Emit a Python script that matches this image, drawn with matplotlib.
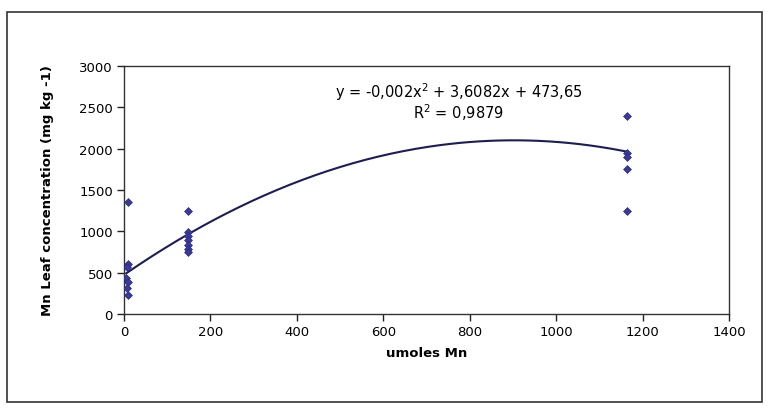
import numpy as np
import matplotlib
matplotlib.use('Agg')
import matplotlib.pyplot as plt
from matplotlib.patches import Rectangle

# data
x_low = [10, 10, 8, 5, 10, 8, 10]
y_low = [1360, 610, 570, 430, 390, 310, 230]
x_mid = [148, 148, 148, 148, 148, 148, 148]
y_mid = [1250, 990, 940, 890, 840, 790, 750]
x_high = [1165, 1165, 1165, 1165, 1165]
y_high = [2390, 1950, 1900, 1760, 1245]

# trendline coefficients as printed on the chart
coef = [-0.002, 3.6082, 473.65]
eq_text = 'y = -0,002x$^{2}$ + 3,6082x + 473,65'
r2_text = 'R$^{2}$ = 0,9879'

xs = np.array(x_low + x_mid + x_high)
ys = np.array(y_low + y_mid + y_high)

plt.rcParams['font.family'] = ['DejaVu Sans']
plt.rcParams['mathtext.default'] = 'regular'

fig = plt.figure(figsize=(7.68, 4.10), dpi=100)
fig.patch.set_facecolor('white')
# outer chart border
fig.patches.append(Rectangle((7 / 768, 1 - 403 / 410), 755 / 768, 390 / 410,
                             transform=fig.transFigure, fill=False,
                             edgecolor='#333333', linewidth=1.2))

ax = fig.add_axes([124 / 768, 1 - 315 / 410, 605 / 768, 248 / 410])
ax.scatter(xs, ys, marker='D', s=16, color='#3a3a9a', edgecolor='#2a2a80',
           linewidth=0.5, zorder=3)

xt = np.linspace(xs.min(), xs.max(), 200)
ax.plot(xt, np.polyval(coef, xt), color='#1c1c5c', linewidth=1.5, zorder=2)

ax.set_xlim(0, 1400)
ax.set_ylim(0, 3000)
ax.set_xticks(np.arange(0, 1401, 200))
ax.set_yticks(np.arange(0, 3001, 500))
ax.tick_params(direction='out', length=5, width=1, labelsize=9.5, color='#222222',
               pad=3)
for s in ax.spines.values():
    s.set_color('#333333')
    s.set_linewidth(1.0)

ax.set_xlabel('umoles Mn', fontsize=9.5, fontweight='bold', labelpad=6)
ax.set_ylabel('Mn Leaf concentration (mg kg -1)', fontsize=9.5,
              fontweight='bold', labelpad=18)

ax.text(775, 2700, eq_text, ha='center', va='center', fontsize=10.5)
ax.text(775, 2445, r2_text, ha='center', va='center', fontsize=10.5)

fig.savefig('out.png', dpi=100, facecolor='white')
